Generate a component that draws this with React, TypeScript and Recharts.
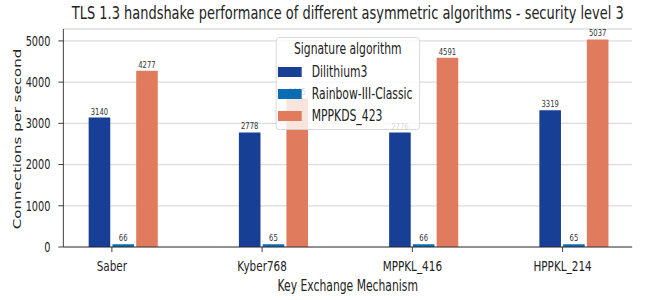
import React from 'react'
import {
  Bar,
  BarChart,
  CartesianGrid,
  LabelList,
  Legend,
  XAxis,
  YAxis,
} from 'recharts'

const mechanisms = ['Saber', 'Kyber768', 'MPPKL_416', 'HPPKL_214']
const dilithium3 = [3140, 2778, 2776, 3319]
const rainbowIIIClassic = [66, 65, 66, 65]
const mppkds423 = [4277, 3605, 4591, 5037]
const yTicks = [0, 1000, 2000, 3000, 4000, 5000]

const series = [
  { key: 'dilithium3', name: 'Dilithium3', color: '#173f95' },
  { key: 'rainbowIIIClassic', name: 'Rainbow-III-Classic', color: '#0a6cb2' },
  { key: 'mppkds423', name: 'MPPKDS_423', color: '#e07c5d' },
]

// the reference is squeezed horizontally, so draw wide and compress
const SX = 0.72
const W = 903
const H = 300
const FONT = '"DejaVu Sans", sans-serif'
const TEXT = '#222222'

// bar groups sit a bit right of their tick in the original
const groupShift = 0.077

const data = mechanisms.map((name, i) => ({
  name,
  pos: i + groupShift,
  dilithium3: dilithium3[i],
  rainbowIIIClassic: rainbowIIIClassic[i],
  mppkds423: mppkds423[i],
}))

const xDomain = [-0.323, 3.463]
const yDomain = [0, 5289]

// legend drawn from the series list so it keeps the plot order
function LegendBox() {
  return (
    <div
      style={{
        width: 200,
        height: 93,
        boxSizing: 'border-box',
        border: '1px solid #d4d4d4',
        borderRadius: 4,
        background: 'rgba(255,255,255,0.8)',
        position: 'relative',
        fontFamily: FONT,
        fontSize: 15,
        lineHeight: '16px',
        color: TEXT,
      }}
    >
      <div style={{ position: 'absolute', top: 3, left: 0, width: '100%', textAlign: 'center' }}>
        Signature algorithm
      </div>
      {series.map((s, i) => (
        <div
          key={s.key}
          style={{
            position: 'absolute',
            left: 2,
            top: 28 + i * 22,
            height: 12,
            display: 'flex',
            alignItems: 'center',
            whiteSpace: 'nowrap',
          }}
        >
          <span style={{ display: 'inline-block', width: 33, height: 10, background: s.color }} />
          <span style={{ marginLeft: 14 }}>{s.name}</span>
        </div>
      ))}
    </div>
  )
}

function YTitle(props: any) {
  const vb = props.viewBox || { x: 0, y: 29, height: 218 }
  const x = vb.x + 23.5
  const y = vb.y + vb.height / 2 + 1
  return (
    <text
      x={x}
      y={y}
      transform={`rotate(-90 ${x} ${y})`}
      textAnchor="middle"
      dominantBaseline="central"
      fontSize={15}
      fill={TEXT}
    >
      Connections per second
    </text>
  )
}

export default function App() {
  return (
    <div
      style={{
        position: 'absolute',
        left: 0,
        top: 0,
        width: 650,
        height: H,
        overflow: 'hidden',
        background: '#fff',
      }}
    >
      <div
        style={{
          position: 'relative',
          width: W,
          height: H,
          transform: `scaleX(${SX})`,
          transformOrigin: '0 0',
          fontFamily: FONT,
        }}
      >
        <div
          style={{
            position: 'absolute',
            top: 3,
            left: 88,
            width: 790,
            textAlign: 'center',
            fontSize: 18,
            lineHeight: '20px',
            color: TEXT,
            whiteSpace: 'nowrap',
          }}
        >
          TLS 1.3 handshake performance of different asymmetric algorithms - security level 3
        </div>
        <BarChart
          width={W}
          height={H}
          data={data}
          margin={{ top: 29, right: 25, bottom: 0, left: 0 }}
          barSize={30}
          barGap={3}
          style={{ fontFamily: FONT }}
        >
          <CartesianGrid vertical={false} stroke="#dcdcdc" strokeWidth={1.3} />
          <XAxis
            dataKey="pos"
            type="number"
            domain={xDomain}
            ticks={[0, 1, 2, 3]}
            interval={0}
            allowDataOverflow
            tickFormatter={(v) => mechanisms[Math.round(v)]}
            height={53}
            tickSize={5}
            tickMargin={9}
            stroke={TEXT}
            tick={{ fill: TEXT, fontSize: 14.5 }}
            label={{
              value: 'Key Exchange Mechanism',
              position: 'insideBottom',
              offset: 9,
              fill: TEXT,
              fontSize: 15,
            }}
          />
          <XAxis
            xAxisId="top"
            orientation="top"
            type="number"
            domain={xDomain}
            height={0}
            tick={false}
            tickLine={false}
            stroke={TEXT}
          />
          <YAxis
            type="number"
            domain={yDomain}
            ticks={yTicks}
            allowDataOverflow
            width={88}
            tickSize={7}
            tickMargin={11}
            stroke={TEXT}
            tick={{ fill: TEXT, fontSize: 13.5 }}
            label={<YTitle />}
          />
          <YAxis
            yAxisId="right"
            orientation="right"
            type="number"
            domain={yDomain}
            width={0}
            tick={false}
            tickLine={false}
            stroke={TEXT}
          />
          <Legend
            layout="vertical"
            align="center"
            verticalAlign="middle"
            content={<LegendBox />}
            wrapperStyle={{ left: 383, top: 37, width: 200, height: 93 }}
          />
          {series.map((s) => (
            <Bar
              key={s.key}
              dataKey={s.key}
              name={s.name}
              fill={s.color}
              isAnimationActive={false}
            >
              <LabelList
                dataKey={s.key}
                position="top"
                offset={3}
                style={{ fontSize: 9.5, fill: '#333' }}
              />
            </Bar>
          ))}
        </BarChart>
      </div>
    </div>
  )
}
